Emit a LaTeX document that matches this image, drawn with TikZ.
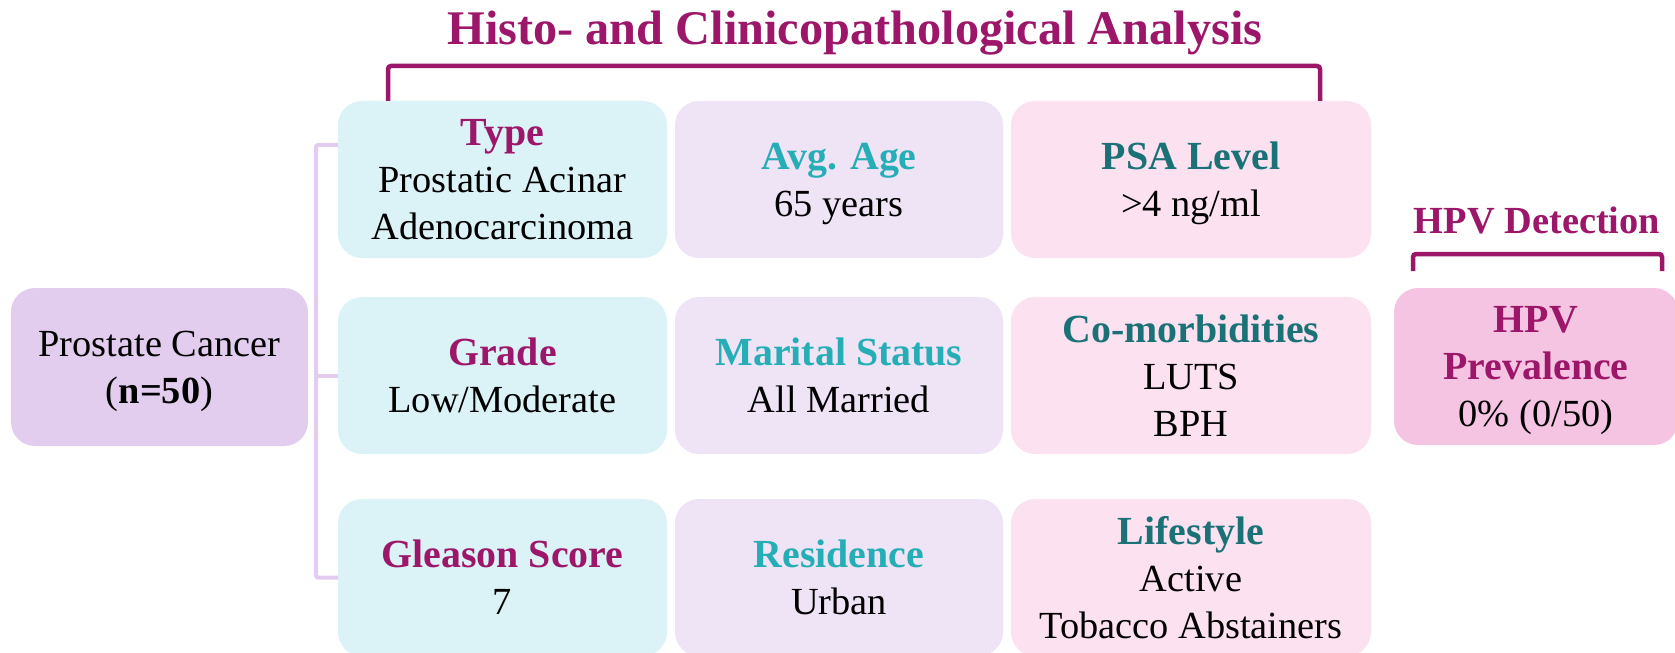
\documentclass[tikz,border=0pt]{standalone}
\usepackage{fontspec}
\usetikzlibrary{calc}
\setmainfont{Liberation Serif}
\definecolor{hmag}{RGB}{156,22,106}
\definecolor{tealA}{RGB}{38,174,182}
\definecolor{tealB}{RGB}{26,114,118}
\definecolor{fillcyan}{RGB}{219,243,247}
\definecolor{filllav}{RGB}{239,228,246}
\definecolor{fillpink}{RGB}{252,225,241}
\definecolor{fillroot}{RGB}{226,205,238}
\definecolor{fillhpv}{RGB}{246,196,227}
\definecolor{brlight}{RGB}{227,204,238}
\newcommand{\hdmag}[1]{{\fontsize{40}{47}\selectfont\bfseries\color{hmag}#1}}
\newcommand{\hdtla}[1]{{\fontsize{40}{47}\selectfont\bfseries\color{tealA}#1}}
\newcommand{\hdtlb}[1]{{\fontsize{40}{47}\selectfont\bfseries\color{tealB}#1}}
\begin{document}
\begin{tikzpicture}[x=1bp,y=-1bp,
  card/.style={rounded corners=24bp, inner sep=0pt, align=center, text depth=0pt,
    font=\fontsize{38.5}{47}\selectfont},
  cola/.style={card, fill=fillcyan, minimum width=329bp, minimum height=157bp},
  colb/.style={card, fill=filllav, minimum width=328bp, minimum height=157bp},
  colc/.style={card, fill=fillpink, minimum width=360bp, minimum height=157bp},
  bracketdark/.style={draw=hmag, line width=4.5bp, rounded corners=3bp},
  bracketlight/.style={draw=brlight, line width=4bp, rounded corners=2bp},
  title/.style={inner sep=0pt, text=hmag, font=\fontsize{48.5}{56}\selectfont\bfseries}]
\useasboundingbox (0,0) rectangle (1675,653);
\clip (0,0) rectangle (1675,653);

% headings
\node[title, anchor=base] (ttl) at (855,45) {Histo- and Clinicopathological Analysis};
\node[inner sep=0pt, anchor=base, text=hmag, font=\fontsize{38.5}{44}\selectfont\bfseries]
  (hpvttl) at (1537,233) {HPV Detection};

% root
\node[card, fill=fillroot, minimum width=297bp, minimum height=158bp] (root) at (159.5,367)
  {Prostate Cancer\\(\textbf{n=50})};

% grid of findings
\node[cola] (type)  at (502.5,179.5) {\hdmag{Type}\\Prostatic Acinar\\Adenocarcinoma};
\node[colb] (age)   at (839,179.5)   {\hdtla{Avg. Age}\\65 years};
\node[colc] (psa)   at (1191,179.5)  {\hdtlb{PSA Level}\\>4 ng/ml};

\node[cola] (grade) at (502.5,375.5) {\hdmag{Grade}\\Low/Moderate};
\node[colb] (marit) at (839,375.5)   {\hdtla{Marital Status}\\All Married};
\node[colc] (comor) at (1191,375.5)  {\hdtlb{Co-morbidities}\\LUTS\\BPH};

\node[cola] (glea)  at (502.5,577.5) {\hdmag{Gleason Score}\\7};
\node[colb] (resid) at (839,577.5)   {\hdtla{Residence}\\Urban};
\node[colc] (life)  at (1191,577.5)  {\hdtlb{Lifestyle}\\Active\\Tobacco Abstainers};

% HPV result
\node[card, fill=fillhpv, minimum width=284bp, minimum height=157bp] (hpv) at (1536,366.5)
  {\hdmag{HPV}\\\hdmag{Prevalence}\\0\% (0/50)};

% bracket over the analysis columns
\coordinate (tl) at (388,66);
\coordinate (tr) at (1320,66);
\draw[bracketdark] (tl |- type.north) -- (tl) -- (tr) -- (tr |- psa.north);

% bracket over the HPV result
\coordinate (hl) at (1413,254);
\coordinate (hr) at (1662,254);
\draw[bracketdark] ($(hl)+(0,17)$) -- (hl) -- (hr) -- ($(hr)+(0,17)$);

% bracket linking the cohort to the rows
\coordinate (bx) at (316,0);
\draw[bracketlight] (type.west |- 0,145) -- (bx |- 0,145) -- (bx |- glea.west) -- (glea.west);
\draw[bracketlight] (bx |- grade.west) -- (grade.west);
\end{tikzpicture}
\end{document}
